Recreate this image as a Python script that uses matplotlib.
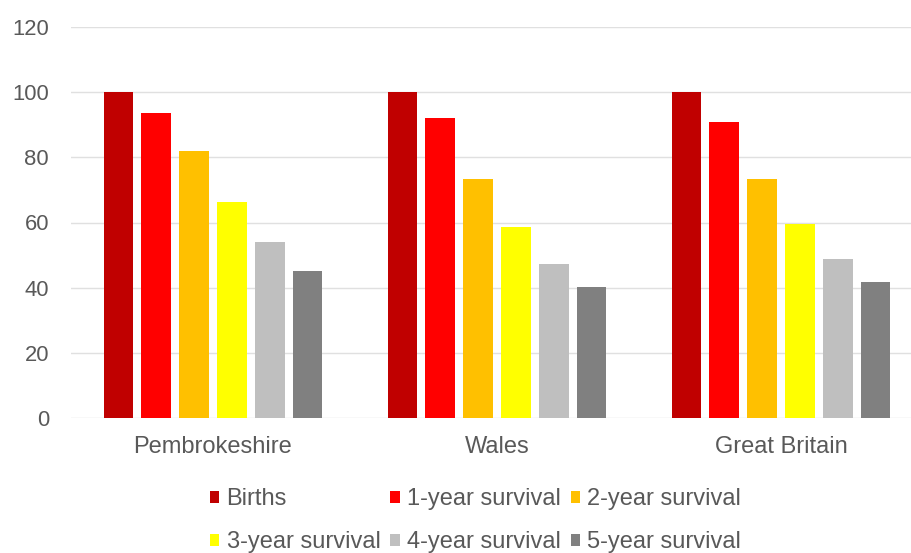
import matplotlib
matplotlib.use("Agg")
import matplotlib.pyplot as plt
import numpy as np
from matplotlib.patches import Patch

plt.rcParams['font.family'] = ['Liberation Sans', 'DejaVu Sans']

categories = ["Pembrokeshire", "Wales", "Great Britain"]
series_names = ["Births", "1-year survival", "2-year survival",
                "3-year survival", "4-year survival", "5-year survival"]
births = [100, 100, 100]
surv_1y = [93.7, 92.1, 90.9]
surv_2y = [81.9, 73.5, 73.5]
surv_3y = [66.4, 58.7, 59.4]
surv_4y = [54.0, 47.4, 48.7]
surv_5y = [45.1, 40.3, 41.7]
yticks = [0, 20, 40, 60, 80, 100, 120]

values = [births, surv_1y, surv_2y, surv_3y, surv_4y, surv_5y]
colors = ["#C00000", "#FF0000", "#FFC000", "#FFFF00", "#BFBFBF", "#808080"]

W, H = 912, 553
left_px = 71
fig = plt.figure(figsize=(W / 100, H / 100), dpi=100)
ax = fig.add_axes([left_px / W, (H - 418) / H, (W - left_px) / W, (418 - 27) / H])

x = np.arange(len(categories))
pitch = 0.1335
width = 0.1035
for i, (name, vals, c) in enumerate(zip(series_names, values, colors)):
    offs = (i - 2.5) * pitch
    ax.bar(x + offs, vals, width=width, color=c, label=name, zorder=3)

ax.set_ylim(0, 120)
ax.set_xlim(-0.5, -0.5 + (W - left_px) / 284)
ax.set_yticks(yticks)
ax.set_yticklabels([str(t) for t in yticks], fontsize=15.8, color="#595959")
ax.set_xticks(x)
ax.set_xticklabels(categories, fontsize=17, color="#595959")
ax.tick_params(axis='both', length=0)
ax.tick_params(axis='y', pad=15.8)
ax.tick_params(axis='x', pad=13)
ax.grid(axis='y', color="#E0E0E0", linewidth=1.0, zorder=0)
for s in ax.spines.values():
    s.set_visible(False)

# Legend laid out row by row (matplotlib fills columns first)
order = [0, 3, 1, 4, 2, 5]
handles = [Patch(facecolor=colors[k], edgecolor='none') for k in order]
labels = [series_names[k] for k in order]
fig.legend(handles, labels, ncol=3, loc='upper left',
           bbox_to_anchor=(210 / W, 1 - 488 / H), frameon=False,
           fontsize=17, labelcolor="#595959", borderpad=0, borderaxespad=0,
           handlelength=0.4, handleheight=0.4, handletextpad=0.3,
           columnspacing=0.42, labelspacing=0.89)

fig.savefig("out.png", dpi=100, facecolor="white")
